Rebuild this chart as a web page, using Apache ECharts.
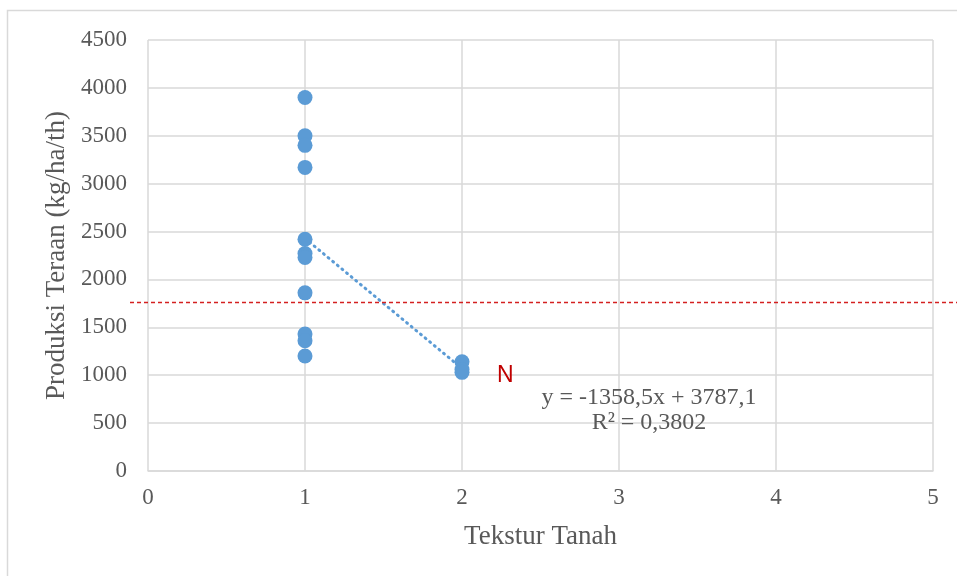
<!DOCTYPE html>
<html><head><meta charset="utf-8">
<script src="https://cdn.jsdelivr.net/npm/echarts@6/dist/echarts.min.js"></script>
<style>html,body{margin:0;padding:0;background:#fff}#c{width:957px;height:576px}</style>
</head><body><div id="c"></div>
<script>
const xTicks = [0, 1, 2, 3, 4, 5];
const yTicks = [0, 500, 1000, 1500, 2000, 2500, 3000, 3500, 4000, 4500];
const texturX = [1, 1, 1, 1, 1, 1, 1, 1, 1, 1, 1, 2, 2, 2];
const produksiY = [3900, 3500, 3400, 3170, 2420, 2270, 2230, 1860, 1430, 1360, 1200, 1140, 1060, 1030];
const trendSlope = -1358.5, trendIntercept = 3787.1;
const trendX = [1, 2];
const refLineY = 1760;
const eqText = ['y = -1358,5x + 3787,1', 'R² = 0,3802'];

const chart = echarts.init(document.getElementById('c'));
const pts = texturX.map((x, i) => [x, produksiY[i]]);
const trend = trendX.map(x => [x, trendSlope * x + trendIntercept]);
const serif = '"Liberation Serif", "Times New Roman", serif';
const gridL = 148, gridR = 24, gridT = 40, gridB = 105;

function graphics(yPix) {
  const g = [
    {type: 'rect', shape: {x: 7.5, y: 10.5, width: 960, height: 580},
     style: {fill: 'none', stroke: '#d9d9d9', lineWidth: 1.5}, z: -10, silent: true},
    {type: 'text', left: 497, top: 364,
     style: {text: 'N', fill: '#C00000', font: '23px "Liberation Sans", Arial, sans-serif'}},
    {type: 'text', x: 649, y: 398,
     style: {text: eqText[0], fill: '#595959', font: '24px ' + serif, align: 'center', verticalAlign: 'middle'}},
    {type: 'text', x: 649, y: 423,
     style: {text: eqText[1], fill: '#595959', font: '24px ' + serif, align: 'center', verticalAlign: 'middle'}}
  ];
  if (yPix !== undefined) {
    const yy = Math.round(yPix) + 0.5;
    g.push({type: 'line', z: 10, shape: {x1: 130, y1: yy, x2: 957, y2: yy},
      style: {stroke: '#D42020', lineWidth: 1.3, lineDash: [4, 3]}});
  }
  return g;
}

chart.setOption({
  animation: false,
  grid: {left: gridL, right: gridR, top: gridT, bottom: gridB},
  xAxis: {
    type: 'value', min: 0, max: 5, interval: 1,
    name: 'Tekstur Tanah', nameLocation: 'middle', nameGap: 52,
    nameTextStyle: {fontFamily: serif, fontSize: 27, color: '#595959'},
    axisLine: {show: true, lineStyle: {color: '#d9d9d9', width: 1.5}},
    axisTick: {show: false},
    axisLabel: {fontFamily: serif, fontSize: 23, color: '#595959', margin: 15,
      formatter: v => String(v)},
    splitLine: {show: true, lineStyle: {color: '#d9d9d9', width: 1.5}}
  },
  yAxis: {
    type: 'value', min: 0, max: 4500, interval: 500,
    name: 'Produksi Teraan (kg/ha/th)', nameLocation: 'middle', nameGap: 71,
    nameTextStyle: {fontFamily: serif, fontSize: 27, color: '#595959'},
    axisLine: {show: false}, axisTick: {show: false},
    axisLabel: {fontFamily: serif, fontSize: 23, color: '#595959', margin: 21,
      formatter: v => String(v)},
    splitLine: {show: true, lineStyle: {color: '#d9d9d9', width: 1.5}}
  },
  series: [
    {
      type: 'line', data: trend, symbol: 'none', z: 2,
      lineStyle: {color: '#5B9BD5', width: 3, type: [1, 5], cap: 'round'}
    },
    {
      type: 'scatter', data: pts, symbol: 'circle', symbolSize: 15, z: 3,
      itemStyle: {color: '#5B9BD5', opacity: 1}
    }
  ],
  graphic: graphics()
});

const yPix = chart.convertToPixel({gridIndex: 0}, [0, refLineY])[1];
chart.setOption({graphic: graphics(yPix)}, {replaceMerge: ['graphic']});
</script></body></html>
